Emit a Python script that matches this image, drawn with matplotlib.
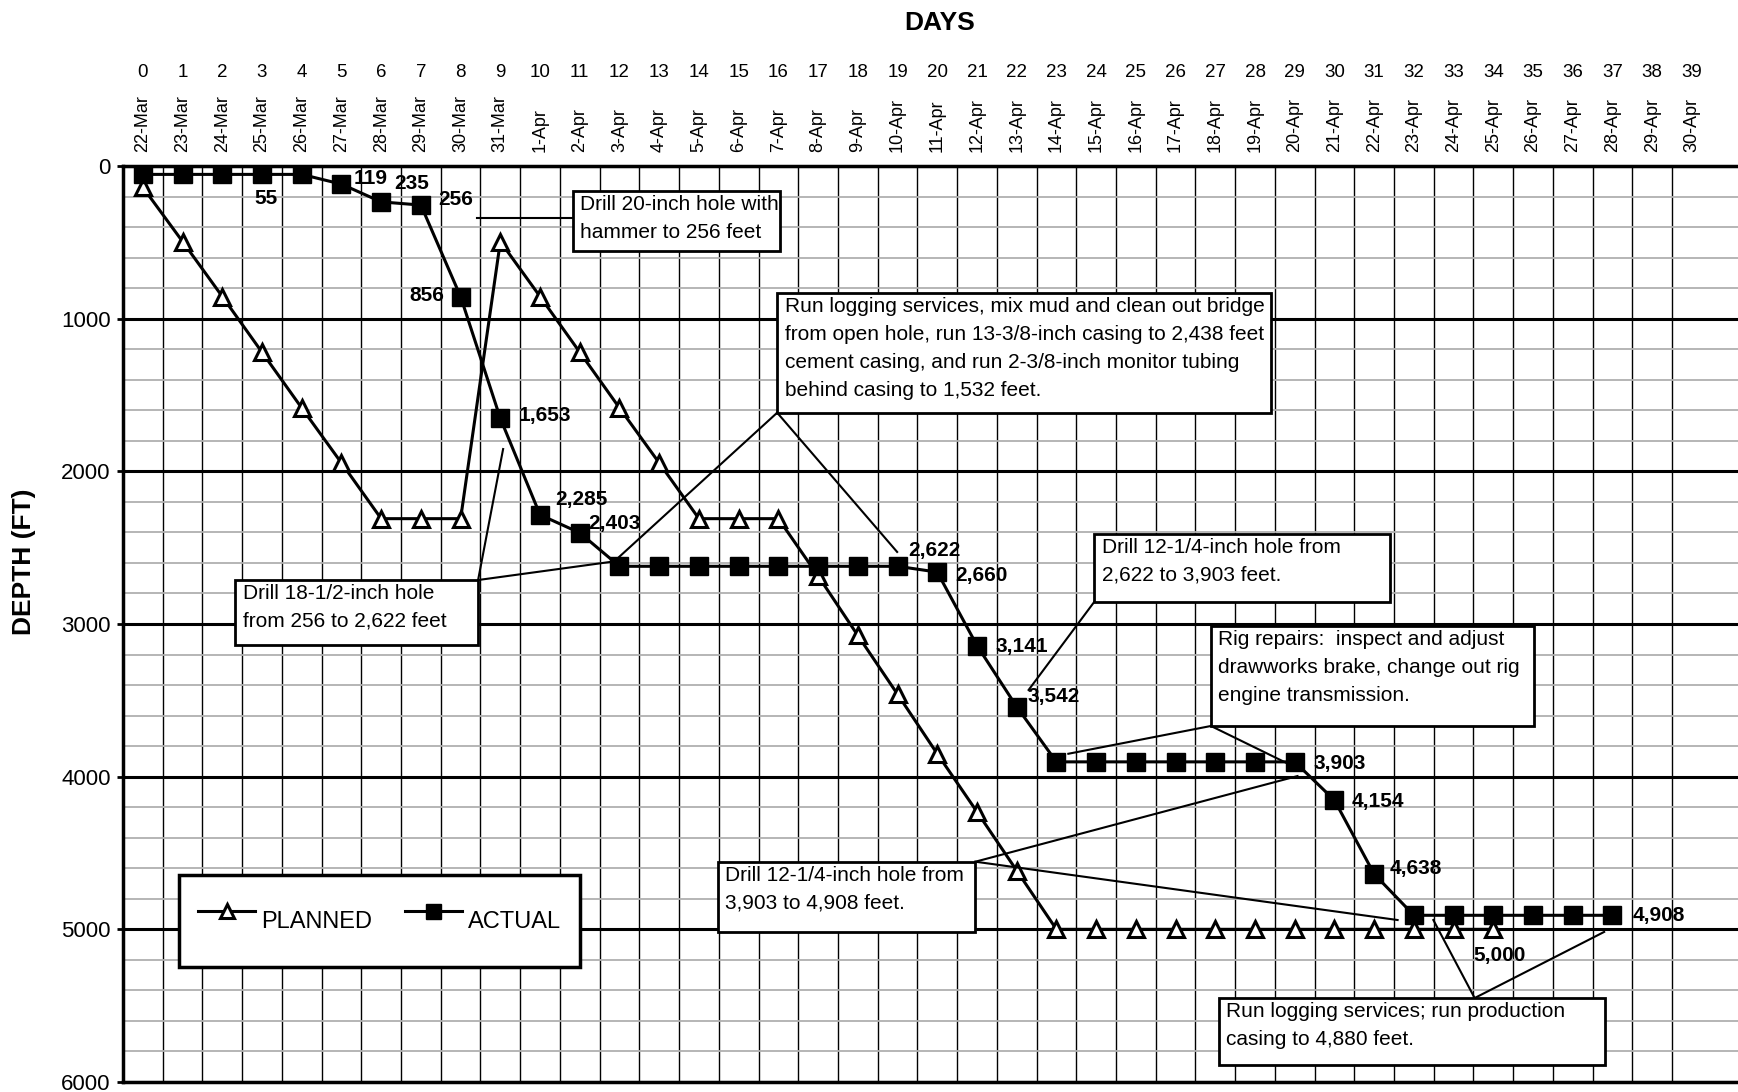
import matplotlib.pyplot as plt
import matplotlib.patches as mpatches
import matplotlib.transforms as mtransforms

plt.rcParams['font.family'] = ['Liberation Sans', 'DejaVu Sans']

# day index and calendar date along the top
days = list(range(40))
dates = [f"{d}-Mar" for d in range(22, 32)] + [f"{d}-Apr" for d in range(1, 31)]

# depth in feet
planned = [140, 495, 855, 1220, 1585, 1945, 2310, 2310, 2310,
           495, 855, 1220, 1585, 1945, 2310, 2310, 2310,
           2685, 3075, 3460, 3850, 4230, 4615,
           5000, 5000, 5000, 5000, 5000, 5000, 5000, 5000, 5000, 5000, 5000, 5000]
actual = [55, 55, 55, 55, 55, 119, 235, 256, 856, 1653, 2285, 2403,
          2622, 2622, 2622, 2622, 2622, 2622, 2622, 2622,
          2660, 3141, 3542,
          3903, 3903, 3903, 3903, 3903, 3903, 3903,
          4154, 4638,
          4908, 4908, 4908, 4908, 4908, 4908]

# which points get a value label: (series, day, ha, dx pt, dy pt)
point_labels = [
    ('actual', 3, 'center', 2.6, -17),
    ('actual', 5, 'left', 8.5, 4.2),
    ('actual', 6, 'left', 9.2, 12.9),
    ('actual', 7, 'left', 12.5, 4.2),
    ('actual', 8, 'right', -12, 1),
    ('actual', 9, 'left', 13, 2),
    ('actual', 10, 'left', 10.8, 10.8),
    ('actual', 11, 'left', 6.2, 7),
    ('actual', 19, 'left', 8, 11.7),
    ('actual', 20, 'left', 13, -2.6),
    ('actual', 21, 'left', 13, -0.9),
    ('actual', 22, 'left', 7.5, 7.2),
    ('actual', 29, 'left', 13.5, -1),
    ('actual', 30, 'left', 12.5, -1),
    ('actual', 31, 'left', 10.9, 4.2),
    ('actual', 37, 'left', 14.5, 0),
    ('planned', 34, 'center', 4.2, -19),
]

# callout boxes: text, box (day0, top, day1, bottom), leader origin, leader targets
notes = [
    ("Drill 20-inch hole with\nhammer to 256 feet",
     (10.82, 162, 16.04, 555), (10.82, 343), [(8.41, 343)]),
    ("Run logging services, mix mud and clean out bridge\n"
     "from open hole, run 13-3/8-inch casing to 2,438 feet\n"
     "cement casing, and run 2-3/8-inch monitor tubing\n"
     "behind casing to 1,532 feet.",
     (15.97, 830, 28.41, 1616), (15.97, 1616), [(11.99, 2561), (18.99, 2528)]),
    ("Drill 18-1/2-inch hole\nfrom 256 to 2,622 feet",
     (2.32, 2712, 8.44, 3137), (8.44, 2712), [(9.07, 1854), (11.98, 2586)]),
    ("Drill 12-1/4-inch hole from\n2,622 to 3,903 feet.",
     (23.95, 2410, 31.41, 2856), (23.95, 2856), [(22.3, 3432)]),
    ("Rig repairs:  inspect and adjust\ndrawworks brake, change out rig\nengine transmission.",
     (26.89, 3013, 35.02, 3668), (26.89, 3668), [(23.3, 3850), (28.79, 3910)]),
    ("Drill 12-1/4-inch hole from\n3,903 to 4,908 feet.",
     (14.47, 4557, 20.96, 5015), (20.96, 4557), [(29.07, 3996), (31.59, 4939)]),
    ("Run logging services; run production\ncasing to 4,880 feet.",
     (27.09, 5450, 36.81, 5889), (33.53, 5450), [(32.49, 4939), (36.79, 5017)]),
]

W, H = 1738, 1092
fig = plt.figure(figsize=(W / 100, H / 100), dpi=100)
ax = fig.add_axes([123 / W, 1 - 1082 / H, (W - 123) / W, (1082 - 166) / H])

ax.plot(days[:len(planned)], planned, marker='^', ms=12, mfc='white', mec='black',
        mew=2.2, color='black', lw=2.2, label='PLANNED', zorder=3)
ax.plot(days[:len(actual)], actual, marker='s', ms=13.5, mfc='black', mec='black',
        mew=1, color='black', lw=2.2, label='ACTUAL', zorder=4)

ax.set_xlim(-0.5, 40.16)
ax.set_ylim(6000, 0)

# top axis: day numbers as ticks, dates as rotated text
ax.xaxis.tick_top()
ax.set_xticks(days)
ax.set_xticklabels([str(d) for d in days], fontsize=13.5)
ax.tick_params(axis='x', which='major', length=0, pad=61)
trans = mtransforms.blended_transform_factory(ax.transData, fig.transFigure)
for d, lab in zip(days, dates):
    ax.text(d, 1 - 152 / H, lab, rotation=90, ha='center', va='bottom',
            fontsize=13, transform=trans)

ax.set_yticks(range(0, 6001, 1000))
ax.set_yticklabels([str(v) for v in range(0, 6001, 1000)], fontsize=16)
ax.tick_params(axis='y', which='major', length=4, width=2, pad=5)
ax.set_xticks([d - 0.5 for d in days], minor=True)
ax.set_yticks(range(0, 6001, 200), minor=True)
ax.tick_params(which='minor', length=0)

ax.set_axisbelow(True)
ax.grid(which='major', axis='y', color='black', lw=2.2)
ax.grid(which='minor', axis='y', color='#b0b0b0', lw=1.3)
ax.grid(which='minor', axis='x', color='black', lw=1.0)
ax.grid(which='major', axis='x', visible=False)

ax.spines['right'].set_visible(False)
for s in ['top', 'left', 'bottom']:
    ax.spines[s].set_linewidth(2.5)

fig.text(940 / W, 1 - 23 / H, 'DAYS', ha='center', va='center', fontsize=19, fontweight='bold')
fig.text(24 / W, 1 - 562 / H, 'DEPTH (FT)', rotation=90, ha='center', va='center',
         fontsize=19, fontweight='bold')

series = {'planned': planned, 'actual': actual}
for name, d, ha, dx, dy in point_labels:
    v = series[name][d]
    ax.annotate(f"{v:,}", xy=(d, v), xytext=(dx, dy), textcoords='offset points',
                ha=ha, va='center', fontsize=15, fontweight='bold', zorder=8)

for text, (x0, top, x1, bottom), (ox, oy), targets in notes:
    for tx, ty in targets:
        ax.plot([ox, tx], [oy, ty], color='black', lw=1.5, zorder=5)
    ax.add_patch(mpatches.Rectangle((x0, top), x1 - x0, bottom - top, fc='white',
                                    ec='black', lw=2, zorder=6))
    ax.text(x0 + 0.19, top + 25, text, ha='left', va='top', fontsize=15,
            linespacing=1.6, zorder=7)

leg = ax.legend(loc='center', bbox_to_anchor=(379.5 / W, 1 - 921 / H),
                bbox_transform=fig.transFigure, ncol=2, fontsize=17, frameon=True,
                fancybox=False, edgecolor='black', framealpha=1, borderpad=0.8,
                handlelength=2.4, handletextpad=0.25, columnspacing=1.4,
                handleheight=3.1, markerscale=0.8)
leg.get_frame().set_linewidth(2.5)
leg.set_zorder(7)

fig.savefig('out.png', dpi=100)
